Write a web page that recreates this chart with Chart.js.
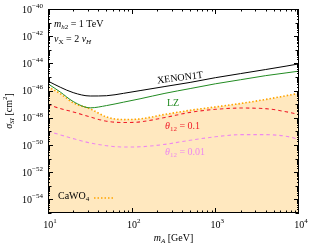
<!DOCTYPE html>
<html>
<head>
<meta charset="utf-8">
<script src="https://cdn.jsdelivr.net/npm/chart.js@4"></script>
<style>
  html, body { margin: 0; padding: 0; background: #fff; }
  #wrap { width: 316px; height: 245px; }
</style>
</head>
<body>
<div id="wrap"><canvas id="chart" width="316" height="245"></canvas></div>
<script>
// dark matter mass m_A [GeV]
const masses = [10, 14, 20, 32, 50, 80, 126, 250, 500, 1000, 2000, 4000, 7000, 10000];

// sigma_SI [cm^2]
const xenon1t = [5.0e-46, 1.78e-46, 7.1e-47, 4.0e-47, 4.2e-47, 6.3e-47, 1.0e-46, 2.0e-46, 4.0e-46, 8.9e-46, 1.78e-45, 3.55e-45, 6.3e-45, 9.3e-45];
const lz = [3.16e-46, 7.9e-47, 1.58e-47, 5.4e-48, 7.9e-48, 1.41e-47, 2.5e-47, 6.3e-47, 1.41e-46, 3.16e-46, 6.3e-46, 1.26e-45, 2.0e-45, 2.7e-45];
const cawo4 = [1.9e-46, 6.0e-47, 1.26e-47, 4.5e-48, 1.15e-48, 7.4e-49, 8.3e-49, 1.78e-48, 3.55e-48, 6.3e-48, 1.12e-47, 2.24e-47, 4.2e-47, 6.3e-47];
const theta01 = [1.0e-47, 4.8e-48, 2.7e-48, 1.15e-48, 5.6e-49, 4.5e-49, 5.0e-49, 1.05e-48, 2.5e-48, 4.2e-48, 5.2e-48, 4.7e-48, 2.8e-48, 1.78e-48];
const theta001 = [1.0e-49, 5.6e-50, 2.95e-50, 1.41e-50, 8.9e-51, 7.1e-51, 7.4e-51, 1.12e-50, 2.24e-50, 4.0e-50, 5.75e-50, 5.75e-50, 4.4e-50, 2.6e-50];

// axis ticks
const xMajor = [10, 100, 1000, 10000];
const yLabelExp = [-40, -42, -44, -46, -48, -50, -52, -54];

const pts = (ys) => masses.map((m, i) => ({ x: m, y: ys[i] }));
const SERIF = "'Liberation Serif', 'DejaVu Serif', serif";

// draws text made of pieces: {t, it, sub, sup}
const richWidth = (ctx, parts, size) => {
  let w = 0;
  parts.forEach((p) => {
    const s = p.sub || p.sup ? size * 0.7 : size;
    ctx.font = (p.it ? "italic " : "") + s + "px " + SERIF;
    w += ctx.measureText(p.t).width;
  });
  return w;
};
const drawRich = (ctx, parts, x, y, size, color, align = "left") => {
  const w = richWidth(ctx, parts, size);
  let cx = align === "center" ? x - w / 2 : align === "right" ? x - w : x;
  ctx.fillStyle = color;
  ctx.textBaseline = "middle";
  ctx.textAlign = "left";
  parts.forEach((p) => {
    const s = p.sub || p.sup ? size * 0.7 : size;
    ctx.font = (p.it ? "italic " : "") + s + "px " + SERIF;
    const dy = p.sub ? size * 0.3 : p.sup ? -size * 0.4 : 0;
    ctx.fillText(p.t, cx, y + dy);
    cx += ctx.measureText(p.t).width;
  });
};

const decor = {
  id: "decor",
  afterDraw(chart) {
    const { ctx, chartArea: a, scales } = chart;
    const xs = scales.x, ys = scales.y;
    ctx.save();

    // frame
    ctx.strokeStyle = "#000";
    ctx.lineWidth = 1;
    ctx.strokeRect(a.left + 0.5, a.top + 0.5, a.right - a.left - 1, a.bottom - a.top - 1);

    // x ticks (bottom and top, inward)
    ctx.beginPath();
    for (let d = 10; d < 10000; d *= 10) {
      for (let k = 1; k <= 9; k++) {
        const v = d * k;
        const px = Math.round(xs.getPixelForValue(v)) + 0.5;
        const len = k === 1 ? 5 : 2.5;
        ctx.moveTo(px, a.bottom); ctx.lineTo(px, a.bottom - len);
        ctx.moveTo(px, a.top); ctx.lineTo(px, a.top + len);
      }
    }
    // y ticks (left and right, inward)
    for (let e = -55; e < -40; e++) {
      for (let k = 1; k <= 9; k++) {
        const v = k * Math.pow(10, e);
        const py = Math.round(ys.getPixelForValue(v)) + 0.5;
        const len = k === 1 ? (e % 2 === 0 ? 5 : 3.5) : 2;
        ctx.moveTo(a.left, py); ctx.lineTo(a.left + len, py);
        ctx.moveTo(a.right, py); ctx.lineTo(a.right - len, py);
      }
    }
    ctx.stroke();

    // tick labels
    xMajor.forEach((v) => {
      const px = xs.getPixelForValue(v);
      drawRich(ctx, [{ t: "10" }, { t: String(Math.round(Math.log10(v))), sup: true }], px + 2, 225, 10, "#000", "center");
    });
    yLabelExp.forEach((e) => {
      const py = ys.getPixelForValue(Math.pow(10, e));
      drawRich(ctx, [{ t: "10" }, { t: "\u2212" + Math.abs(e), sup: true }], 43, py + 1, 10, "#000", "right");
    });

    // axis titles
    drawRich(ctx, [{ t: "m", it: true }, { t: "A", it: true, sub: true }, { t: " [GeV]" }], (a.left + a.right) / 2, 238, 10, "#000", "center");
    ctx.save();
    ctx.translate(9, (a.top + a.bottom) / 2);
    ctx.rotate(-Math.PI / 2);
    drawRich(ctx, [{ t: "\u03c3", it: true }, { t: "SI", it: true, sub: true }, { t: " [cm" }, { t: "2", sup: true }, { t: "]" }], 0, 0, 10, "#000", "center");
    ctx.restore();

    // annotations
    drawRich(ctx, [{ t: "m", it: true }, { t: "h", it: true, sub: true }, { t: "2", sub: true }, { t: " = 1 TeV" }], 54, 24, 10, "#000");
    drawRich(ctx, [{ t: "v", it: true }, { t: "X", sub: true }, { t: " = 2 " }, { t: "v", it: true }, { t: "H", it: true, sub: true }], 54, 39, 10, "#000");

    ctx.save();
    ctx.translate(180, 78);
    ctx.rotate(-7 * Math.PI / 180);
    drawRich(ctx, [{ t: "XENON1T" }], 0, 0, 10, "#000", "center");
    ctx.restore();

    drawRich(ctx, [{ t: "LZ" }], 173, 103, 10, "#228b22", "center");
    drawRich(ctx, [{ t: "\u03b8", it: true }, { t: "12", sub: true }, { t: " = 0.1" }], 165, 126, 10, "#f0202a");
    drawRich(ctx, [{ t: "\u03b8", it: true }, { t: "12", sub: true }, { t: " = 0.01" }], 165, 152, 10, "#ee88ee");

    drawRich(ctx, [{ t: "CaWO" }, { t: "4", sub: true }], 58, 196, 10, "#000");
    ctx.strokeStyle = "#ffa500";
    ctx.lineWidth = 1.5;
    ctx.setLineDash([1.5, 2]);
    ctx.beginPath();
    ctx.moveTo(94, 198); ctx.lineTo(113, 198);
    ctx.stroke();

    ctx.restore();
  },
};

new Chart(document.getElementById("chart"), {
  type: "line",
  data: {
    datasets: [
      { label: "XENON1T", data: pts(xenon1t), borderColor: "#000", borderWidth: 1, cubicInterpolationMode: "monotone" },
      { label: "LZ", data: pts(lz), borderColor: "#228b22", borderWidth: 1, cubicInterpolationMode: "monotone" },
      {
        label: "CaWO4", data: pts(cawo4), borderColor: "#ffa500", borderWidth: 1.6,
        borderDash: [1.5, 2], cubicInterpolationMode: "monotone", fill: "start", backgroundColor: "rgba(255,165,0,0.25)",
      },
      { label: "theta 0.1", data: pts(theta01), borderColor: "#f0202a", borderWidth: 1.1, borderDash: [3.5, 3], cubicInterpolationMode: "monotone" },
      { label: "theta 0.01", data: pts(theta001), borderColor: "#ee88ee", borderWidth: 1.1, borderDash: [3.5, 3], cubicInterpolationMode: "monotone" },
    ],
  },
  options: {
    responsive: false,
    animation: false,
    layout: { padding: { left: 48, right: 17, top: 9, bottom: 32 } },
    elements: { point: { radius: 0 } },
    scales: {
      x: { type: "logarithmic", min: 10, max: 10000, display: false },
      y: { type: "logarithmic", min: 1e-55, max: 1e-40, display: false },
    },
    plugins: {
      legend: { display: false },
      tooltip: { enabled: false },
      filler: { drawTime: "beforeDatasetsDraw" },
    },
  },
  plugins: [decor],
});
</script>
</body>
</html>
